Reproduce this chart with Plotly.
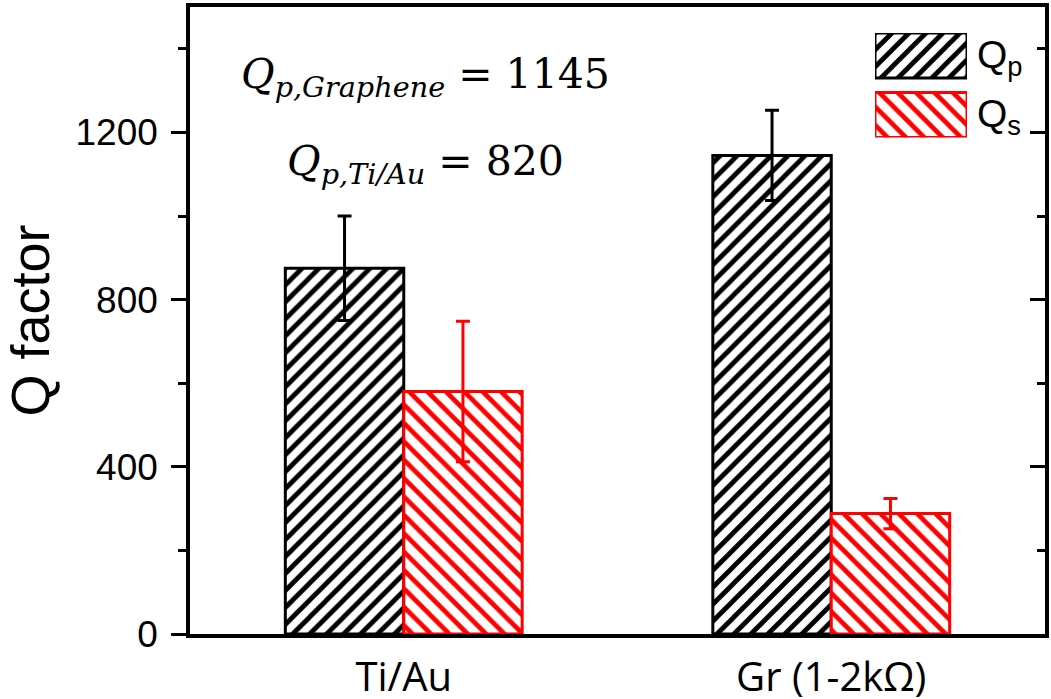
import plotly.graph_objects as go

categories = ["Ti/Au", "Gr (1-2kΩ)"]
qp_values = [875, 1145]
qp_errors = [125, 108]
qs_values = [580, 288]
qs_errors = [168, 36]
series_names = ["Q<sub>p</sub>", "Q<sub>s</sub>"]
y_ticks = [0, 400, 800, 1200]
note_lines = ["<i>Q</i><sub><i>p,Graphene</i></sub> = 1145", "<i>Q</i><sub><i>p,Ti/Au</i></sub> = 820"]

W, H = 1051, 699
L, R, T, B = 190, 6, 7, 65
pw, ph = W - L - R, H - T - B

def px_x(x):
    return (x - L) / pw

def px_y(y):
    return (H - B - y) / ph

qp_pattern = dict(shape="/", fgcolor="black", bgcolor="white", size=12, solidity=0.4, fgopacity=1)
qs_pattern = dict(shape="\\", fgcolor="red", bgcolor="white", size=13, solidity=0.36, fgopacity=1)

fig = go.Figure()

fig.add_trace(go.Bar(
    x=categories, y=qp_values, name=series_names[0], showlegend=False,
    marker=dict(color="white", line=dict(color="black", width=3), pattern=qp_pattern),
    error_y=dict(type="data", array=qp_errors, color="black", thickness=3, width=7),
))
fig.add_trace(go.Bar(
    x=categories, y=qs_values, name=series_names[1], showlegend=False,
    marker=dict(color="white", line=dict(color="red", width=3), pattern=qs_pattern),
    error_y=dict(type="data", array=qs_errors, color="red", thickness=3, width=7),
))
# invisible trace for right-side mirror axis
fig.add_trace(go.Scatter(x=categories, y=[None, None], yaxis="y2", showlegend=False,
                         hoverinfo="skip", mode="markers"))

# legend patches drawn as bars in a small overlay axis
fig.add_trace(go.Bar(
    y=[1], x=[1], orientation="h", xaxis="x3", yaxis="y3", width=0.756, showlegend=False,
    marker=dict(color="white", line=dict(color="black", width=3), pattern=qp_pattern),
    hoverinfo="skip",
))
fig.add_trace(go.Bar(
    y=[0], x=[1], orientation="h", xaxis="x3", yaxis="y3", width=0.756, showlegend=False,
    marker=dict(color="white", line=dict(color="red", width=3), pattern=qs_pattern),
    hoverinfo="skip",
))

axis_font = dict(family="Arial, Liberation Sans", size=37, color="black")

fig.update_layout(
    width=W, height=H,
    margin=dict(l=L, r=R, t=T, b=B),
    paper_bgcolor="white", plot_bgcolor="white",
    barmode="group", bargap=0.446, bargroupgap=0,
    xaxis=dict(
        type="category", range=[-0.5, 1.5], automargin=False,
        showline=True, linecolor="black", linewidth=3.5, mirror=True,
        ticks="", showgrid=False, zeroline=False,
        tickfont=dict(family="Open Sans", size=40, color="black"),
        ticklabelstandoff=5,
    ),
    yaxis=dict(
        range=[0, 1500], tickvals=y_ticks, automargin=False,
        showline=True, linecolor="black", linewidth=3.5, mirror=False,
        ticks="outside", ticklen=15, tickwidth=3, tickcolor="black",
        minor=dict(dtick=200, tick0=0, ticks="outside", ticklen=8, tickwidth=3, tickcolor="black"),
        showgrid=False, zeroline=False,
        tickfont=axis_font, ticklabelstandoff=6,
        title=dict(text="Q factor", font=dict(family="Arial, Liberation Sans", size=54, color="black"), standoff=16),
    ),
    yaxis2=dict(
        range=[0, 1500], tickvals=y_ticks, overlaying="y", side="right", anchor="x",
        showline=True, linecolor="black", linewidth=3.5, automargin=False,
        ticks="inside", ticklen=15, tickwidth=3, tickcolor="black",
        minor=dict(dtick=200, tick0=0, ticks="inside", ticklen=8, tickwidth=3, tickcolor="black"),
        showticklabels=False, showgrid=False, zeroline=False,
    ),
    xaxis3=dict(domain=[px_x(875), px_x(967)], range=[0, 1], anchor="y3",
                visible=False, fixedrange=True),
    yaxis3=dict(domain=[px_y(137.5), px_y(33)], range=[-0.378, 1.378], anchor="x3",
                visible=False, fixedrange=True),
)

# legend labels
for i, name in enumerate(series_names):
    fig.add_annotation(
        xref="paper", yref="paper", x=px_x(975), y=px_y(57 + 59.5 * i),
        xanchor="left", yanchor="middle", showarrow=False,
        text=name, font=dict(family="Arial, Liberation Sans", size=39, color="black"),
    )

# formula annotations
for i, line in enumerate(note_lines):
    fig.add_annotation(
        xref="paper", yref="paper", x=px_x(425), y=px_y(77 + 87 * i),
        xanchor="center", yanchor="middle", showarrow=False,
        text=line, font=dict(family="DejaVu Serif", size=41, color="black"),
    )

fig.write_html("out.html")
